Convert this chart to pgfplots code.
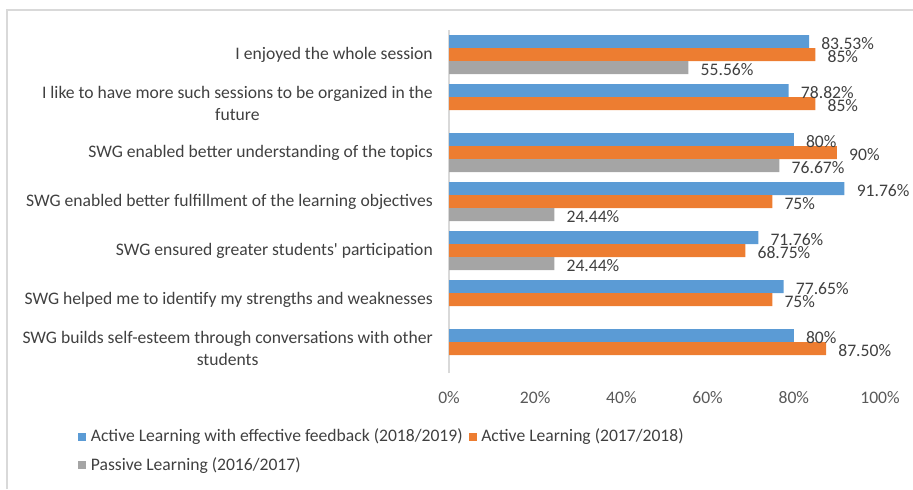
\documentclass[border=0pt]{standalone}
\usepackage{pgfplots}
\usepackage{pgfplotstable}
\pgfplotsset{compat=1.18}
\usepackage{fontspec}
\setmainfont{Carlito}
\definecolor{cBlue}{HTML}{5B9BD5}
\definecolor{cOrange}{HTML}{ED7D31}
\definecolor{cGray}{HTML}{A5A5A5}
\definecolor{txt}{HTML}{404040}
\definecolor{tickc}{HTML}{595959}
\definecolor{framec}{HTML}{D9D9D9}

\pgfplotstableread{
y x lab
6 83.53 83.53
5 78.82 78.82
4 80 80
3 91.76 91.76
2 71.76 71.76
1 77.65 77.65
0 80 80
}\blueT
\pgfplotstableread{
y x lab
6 85 85
5 85 85
4 90 90
3 75 75
2 68.75 68.75
1 75 75
0 87.5 87.50
}\orangeT
\pgfplotstableread{
y x lab
6 55.56 55.56
4 76.67 76.67
3 24.44 24.44
2 24.44 24.44
}\grayT

\newcommand{\lblfont}{\fontsize{13.2}{16.5}\selectfont}

\begin{document}
\begin{tikzpicture}
\useasboundingbox (0pt,0pt) rectangle (684.75pt,-366.75pt);
\draw[framec, line width=1pt] (5.25pt,-366.75pt) -- (5.25pt,-7.5pt) -- (684.75pt,-7.5pt);
\begin{axis}[
  at={(336.75pt,-279.75pt)}, anchor=south west,
  scale only axis, width=323.25pt, height=257.25pt,
  xbar, xmin=0, xmax=100, ymin=-0.5, ymax=6.5,
  axis lines*=left,
  x axis line style={draw=none},
  y axis line style={draw=framec, line width=1pt},
  major tick length=0pt,
  tick style={draw=none},
  xtick={0,20,40,60,80,100},
  xticklabels={0\%,20\%,40\%,60\%,80\%,100\%},
  xticklabel style={font=\lblfont, text=tickc, inner sep=0pt, yshift=-13.5pt},
  ytick={0,1,2,3,4,5,6},
  yticklabels={
    {SWG builds self-esteem through conversations with other\\students},
    {SWG helped me to identify my strengths and weaknesses},
    {SWG ensured greater students\textquotesingle{} participation},
    {SWG enabled better fulfillment of the learning objectives},
    {SWG enabled better understanding of the topics},
    {I like to have more such sessions to be organized in the\\future},
    {I enjoyed the whole session}},
  yticklabel style={font=\lblfont, text=txt, align=center, inner sep=0pt, xshift=-12pt},
  bar width=9.75pt,
  point meta=explicit symbolic,
  nodes near coords={\pgfplotspointmeta\%},
  every node near coord/.append style={font=\lblfont, text=txt, anchor=west, inner sep=0pt, xshift=9pt, yshift=-1.2pt},
  legend image code/.code={\fill[#1] (0pt,-3pt) rectangle (6pt,3pt);},
  legend columns=2,
  legend cell align=left,
  legend style={at={(axis description cs:-0.861,-0.155)}, anchor=north west,
    draw=none, fill=none, inner sep=0pt, font=\lblfont, text=txt,
    row sep=6.5pt,
    /tikz/every even column/.append style={column sep=1pt},
    nodes={inner xsep=3.5pt}},
]
\addplot[fill=cBlue, draw=none, bar shift=9.75pt] table[x=x,y=y,meta=lab]{\blueT};
\addplot[fill=cOrange, draw=none, bar shift=0pt] table[x=x,y=y,meta=lab]{\orangeT};
\addplot[fill=cGray, draw=none, bar shift=-9.75pt] table[x=x,y=y,meta=lab]{\grayT};
\legend{Active Learning with effective feedback (2018/2019),Active Learning (2017/2018),Passive Learning (2016/2017)}
\end{axis}
\end{tikzpicture}
\end{document}
